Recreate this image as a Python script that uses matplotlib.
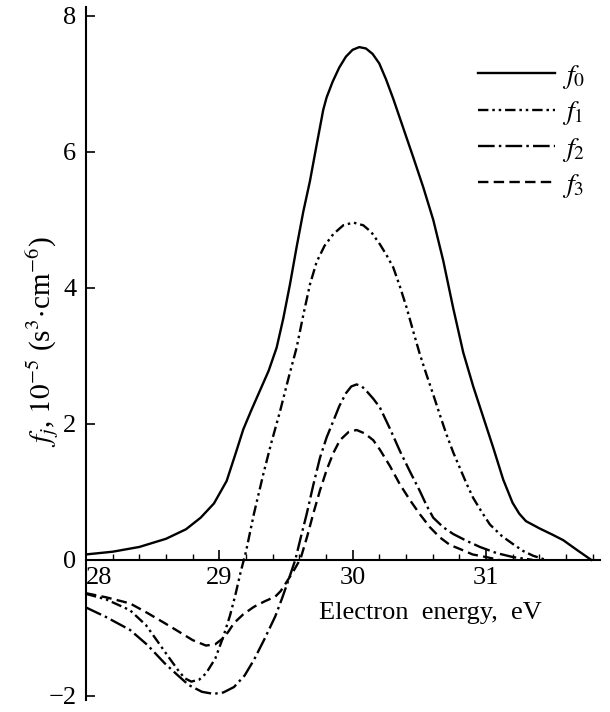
import matplotlib
matplotlib.use("Agg")
import matplotlib.pyplot as plt
from matplotlib.ticker import MultipleLocator

plt.rcParams['font.family'] = ['Liberation Serif', 'DejaVu Serif']
plt.rcParams['mathtext.fontset'] = 'stix'
plt.rcParams['lines.scale_dashes'] = False

# data (energy in eV, f in 1e-5 s^3 cm^-6)
e0 = [28.0, 28.2, 28.4, 28.6, 28.75, 28.86, 28.96, 29.055, 29.12, 29.18, 29.24,
      29.305, 29.37, 29.43, 29.48, 29.53, 29.58, 29.63, 29.68, 29.73, 29.78, 29.805,
      29.85, 29.9, 29.95, 30.0, 30.05, 30.1, 30.15, 30.2, 30.25, 30.305, 30.38,
      30.455, 30.53, 30.605, 30.68, 30.755, 30.83, 30.905, 30.98, 31.055, 31.13,
      31.2, 31.25, 31.3, 31.405, 31.5, 31.58, 31.68, 31.79]
f0 = [0.08, 0.12, 0.19, 0.31, 0.45, 0.62, 0.83, 1.16, 1.55, 1.92, 2.20,
      2.49, 2.78, 3.12, 3.55, 4.05, 4.60, 5.12, 5.57, 6.10, 6.62, 6.80,
      7.03, 7.24, 7.40, 7.50, 7.54, 7.52, 7.44, 7.30, 7.07, 6.78, 6.35,
      5.92, 5.48, 5.00, 4.40, 3.70, 3.05, 2.55, 2.10, 1.65, 1.18,
      0.84, 0.68, 0.57, 0.46, 0.37, 0.29, 0.15, 0.0]

e1 = [28.0, 28.15, 28.33, 28.45, 28.53, 28.62, 28.69, 28.74, 28.79, 28.85, 28.90,
      28.97, 29.03, 29.08, 29.12, 29.16, 29.2, 29.26, 29.33, 29.39, 29.455, 29.52,
      29.58, 29.63, 29.68, 29.73, 29.79, 29.855, 29.93, 30.005, 30.08, 30.14,
      30.205, 30.255, 30.305, 30.355, 30.405, 30.455, 30.505, 30.555, 30.605,
      30.655, 30.705, 30.755, 30.805, 30.855, 30.905, 30.97, 31.03, 31.12,
      31.205, 31.28, 31.355, 31.45]
f1 = [-0.50, -0.58, -0.74, -0.96, -1.18, -1.43, -1.62, -1.74, -1.79, -1.76, -1.67,
      -1.45, -1.13, -0.82, -0.52, -0.18, 0.12, 0.68, 1.26, 1.72, 2.18, 2.68,
      3.12, 3.60, 4.05, 4.38, 4.62, 4.79, 4.92, 4.96, 4.92, 4.82,
      4.64, 4.48, 4.30, 4.02, 3.71, 3.36, 3.02, 2.72, 2.43,
      2.13, 1.84, 1.58, 1.35, 1.12, 0.91, 0.70, 0.52, 0.35,
      0.23, 0.13, 0.06, 0.0]

e2 = [28.0, 28.15, 28.33, 28.46, 28.59, 28.69, 28.77, 28.87, 28.955, 29.03, 29.11,
      29.19, 29.26, 29.34, 29.42, 29.47, 29.52, 29.57, 29.61, 29.655, 29.705, 29.755,
      29.805, 29.855, 29.9, 29.95, 29.99, 30.03, 30.07, 30.11, 30.155, 30.205,
      30.28, 30.355, 30.43, 30.505, 30.555, 30.605, 30.68, 30.755, 30.855, 30.955,
      31.08, 31.205, 31.35]
f2 = [-0.70, -0.84, -1.03, -1.25, -1.52, -1.70, -1.84, -1.94, -1.97, -1.95, -1.87,
      -1.70, -1.47, -1.16, -0.83, -0.57, -0.29, 0.0, 0.32, 0.67, 1.10, 1.50,
      1.80, 2.04, 2.26, 2.45, 2.55, 2.58, 2.55, 2.47, 2.37, 2.24,
      1.93, 1.60, 1.30, 1.01, 0.80, 0.62, 0.48, 0.38, 0.28, 0.19,
      0.10, 0.04, 0.0]

e3 = [28.0, 28.15, 28.33, 28.46, 28.59, 28.70, 28.80, 28.90, 28.97, 29.03, 29.07,
      29.11, 29.18, 29.26, 29.34, 29.42, 29.46, 29.50, 29.555, 29.61, 29.66, 29.705,
      29.755, 29.805, 29.855, 29.905, 29.97, 30.03, 30.09, 30.155, 30.205, 30.28,
      30.355, 30.43, 30.505, 30.58, 30.655, 30.73, 30.805, 30.9, 31.005, 31.1]
f3 = [-0.49, -0.55, -0.64, -0.78, -0.93, -1.06, -1.18, -1.26, -1.24, -1.15, -1.05,
      -0.93, -0.80, -0.69, -0.61, -0.54, -0.46, -0.34, -0.17, 0.02, 0.35, 0.68,
      1.02, 1.32, 1.57, 1.76, 1.88, 1.91, 1.86, 1.76, 1.62, 1.38,
      1.11, 0.88, 0.67, 0.48, 0.33, 0.22, 0.16, 0.08, 0.04, 0.0]

labels = [r'$f_0$', r'$f_1$', r'$f_2$', r'$f_3$']
x_ticks = [28, 29, 30, 31]
y_ticks = [-2, 0, 2, 4, 6, 8]

fig = plt.figure(figsize=(6.1, 7.12), dpi=100)
ax = fig.add_axes([0.141, 0.0169, 0.8426, 0.9733])

lw = 1.7
ax.plot(e0, f0, color='black', lw=lw, ls='-', label=labels[0])
ax.plot(e1, f1, color='black', lw=lw, ls=(0, (7.5, 2.8, 1.8, 2.8, 1.8, 2.8)), label=labels[1])
ax.plot(e2, f2, color='black', lw=lw, ls=(0, (12, 3, 1.8, 3)), label=labels[2])
ax.plot(e3, f3, color='black', lw=lw, ls=(0, (7.5, 3.8)), label=labels[3])

ax.set_xlim(28.0, 31.856)
ax.set_ylim(-2.06, 8.13)

for s in ['top', 'right']:
    ax.spines[s].set_visible(False)
ax.spines['bottom'].set_position(('data', 0))
ax.spines['bottom'].set_linewidth(1.5)
ax.spines['left'].set_linewidth(1.5)

ax.set_xticks(x_ticks)
ax.xaxis.set_minor_locator(MultipleLocator(0.2))
ax.set_yticks(y_ticks)
ax.tick_params(axis='x', which='major', direction='in', length=7.5, width=1.2,
               labelsize=19, pad=5)
ax.tick_params(axis='x', which='minor', direction='in', length=4.3, width=1.0)
ax.tick_params(axis='y', which='major', direction='in', length=6.5, width=1.2,
               labelsize=19, pad=7)
ax.get_xticklabels()[0].set_ha('left')

ax.text(29.75, -0.87, 'Electron  energy,  eV', fontsize=19, ha='left', va='baseline')
fig.text(0.07, 0.52, r'$f_j$, $10^{-5}$ (s$^3\!\cdot\!$cm$^{-6}$)', fontsize=21,
         rotation=90, ha='center', va='center')

ax.legend(loc='upper left', bbox_to_anchor=(0.763, 0.919), frameon=False,
          fontsize=20, handlelength=2.77, handletextpad=0.25, labelspacing=0.3,
          borderpad=0, borderaxespad=0)

fig.savefig('out.png', dpi=100)
